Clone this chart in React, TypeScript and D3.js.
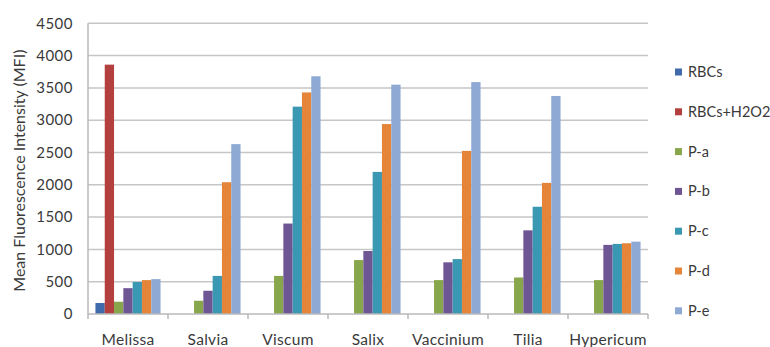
import React from "react";
import * as d3 from "d3";

const categories = ["Melissa", "Salvia", "Viscum", "Salix", "Vaccinium", "Tilia", "Hypericum"];
const seriesNames = ["RBCs", "RBCs+H2O2", "P-a", "P-b", "P-c", "P-d", "P-e"];
const seriesColors = ["#3f6aac", "#b3403e", "#88a64b", "#6e5593", "#3b98b2", "#e48539", "#8fa9d5"];
const rbcs = [170, null, null, null, null, null, null];
const rbcsH2O2 = [3860, null, null, null, null, null, null];
const pA = [190, 205, 590, 835, 525, 565, 525];
const pB = [400, 360, 1400, 975, 800, 1295, 1070];
const pC = [495, 590, 3210, 2200, 850, 1660, 1085];
const pD = [525, 2040, 3430, 2940, 2525, 2030, 1095];
const pE = [540, 2630, 3680, 3550, 3590, 3375, 1120];
const yTicks = [0, 500, 1000, 1500, 2000, 2500, 3000, 3500, 4000, 4500];

const seriesValues = [rbcs, rbcsH2O2, pA, pB, pC, pD, pE];

export default function App() {
  const W = 770, H = 347;
  const left = 88, right = 648, top = 23.3, bottom = 314;
  const font = "Lato, 'Open Sans', sans-serif";
  const x0 = d3.scaleBand<string>().domain(categories).range([left, right]).paddingInner(0).paddingOuter(0);
  const x1 = d3.scaleBand<string>().domain(seriesNames).range([0, x0.bandwidth()]).paddingOuter(0.8).paddingInner(0);
  const y = d3.scaleLinear().domain([0, 4500]).range([bottom, top]);

  return (
    <svg width={W} height={H} style={{ position: "absolute", left: 0, top: 0, background: "#fff" }}>
      {yTicks.map((t) => (
        <g key={t}>
          {t > 0 && <line x1={left} x2={right} y1={y(t)} y2={y(t)} stroke="#c6c6c6" strokeWidth={1.5} />}
          <text x={73} y={y(t)} dy="0.35em" textAnchor="end" fontFamily={font} fontSize={15} letterSpacing={0.5} fill="#3a3a3a">{t}</text>
        </g>
      ))}
      {categories.map((c, ci) =>
        seriesValues.map((vals, si) => {
          const v = vals[ci];
          if (v == null) return null;
          return (
            <rect key={c + si} x={(x0(c) as number) + (x1(seriesNames[si]) as number)} y={y(v)}
              width={x1.bandwidth()} height={bottom - y(v)} fill={seriesColors[si]} />
          );
        })
      )}
      <line x1={left} x2={left} y1={top} y2={bottom} stroke="#b8b8b8" strokeWidth={1.5} />
      <line x1={left} x2={right} y1={bottom} y2={bottom} stroke="#b8b8b8" strokeWidth={1.5} />
      {categories.concat([""]).map((c, i) => {
        const xx = left + i * x0.bandwidth();
        return <line key={"t" + i} x1={xx} x2={xx} y1={bottom} y2={bottom + 5} stroke="#b8b8b8" strokeWidth={1.5} />;
      })}
      {categories.map((c) => (
        <text key={c} x={(x0(c) as number) + x0.bandwidth() / 2} y={345} textAnchor="middle" fontFamily={font} fontSize={15.5} letterSpacing={0.3} fill="#3a3a3a">{c}</text>
      ))}
      <text transform={`translate(25,${(top + bottom) / 2 + 2}) rotate(-90)`} textAnchor="middle" fontFamily={font} fontSize={16} fill="#3a3a3a">Mean Fluorescence Intensity (MFI)</text>
      {seriesNames.map((s, i) => {
        const ly = 72 + i * 39.8;
        return (
          <g key={s}>
            <rect x={675} y={ly - 3.5} width={7} height={7} fill={seriesColors[i]} />
            <text x={688} y={ly} dy="0.35em" fontFamily={font} fontSize={14.5} fill="#3a3a3a">{s}</text>
          </g>
        );
      })}
    </svg>
  );
}
